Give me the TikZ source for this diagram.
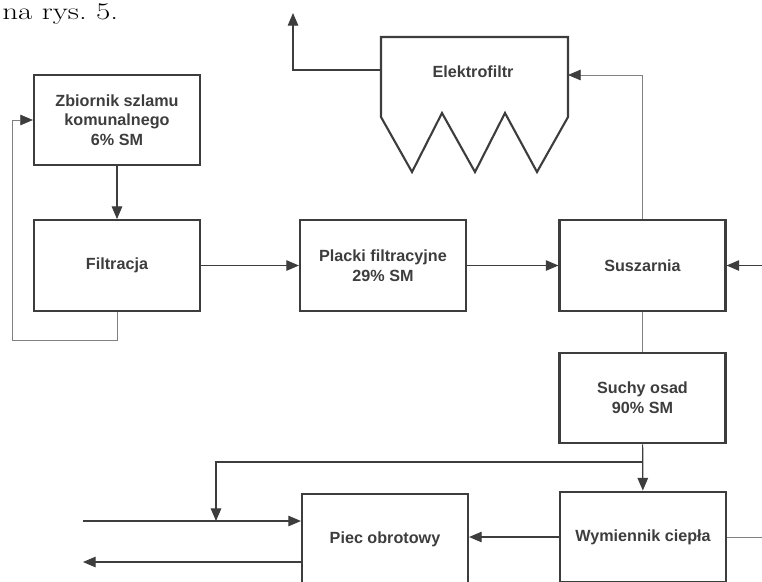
\documentclass[tikz,border=0pt]{standalone}
\usepackage{fontspec}
\usepackage{tikz}
\usetikzlibrary{arrows.meta,positioning,calc}
\newfontfamily\etyk{Liberation Sans}
\definecolor{ramka}{gray}{0.24}
\definecolor{cienka}{gray}{0.5}
\tikzset{
  blok/.style={draw=ramka, line width=1.5pt, minimum width=4.15cm, minimum height=2.27cm,
    align=center, text=ramka, font=\etyk\bfseries\fontsize{11.5}{14}\selectfont},
  strz/.style={draw=ramka, line width=0.8pt, -{Triangle[length=9pt,width=7.5pt]}},
  cienka/.style={draw=cienka, line width=0.5pt},
  cstrz/.style={cienka, -{Triangle[length=9pt,width=7.5pt,color=ramka]}},
}

\begin{document}
\begin{tikzpicture}[x=0.025cm, y=-0.025cm]
    \useasboundingbox (0,0) rectangle (762,581);
    \clip (0,0) rectangle (762,581);

    \node [anchor=base west, inner sep=0pt, font=\fontsize{17}{20}\selectfont] (rys) at (2,19) {\scalebox{1.3}[1]{na rys.~5.}};

    \node [blok] (zbior) at (117,120) {Zbiornik szlamu\\komunalnego\\6\% SM};
    \node [blok] (filtr) at (117,265.5) {Filtracja};
    \node [blok] (placki) at (383,265.5) {Placki filtracyjne\\29\% SM};
    \node [blok] (susz) at (642.5,265.5) {Suszarnia};
    \node [blok] (suchy) at (642.5,398) {Suchy osad\\90\% SM};
    \node [blok] (wym) at (643,537) {Wymiennik ciepła};
    \node [blok] (piec) at (385,539) {Piec obrotowy};

    % elektrofiltr
    \draw [ramka, line width=1.5pt, line join=miter]
        (381,117) -- (381,37) -- (568,37) -- (568,117)
        -- (537,172) -- (505,113) -- (475,172) -- (442,113) -- (412,172) -- cycle;
    \node [text=ramka, font=\etyk\bfseries\fontsize{11.5}{14}\selectfont] (elf) at (473,72) {Elektrofiltr};
    \coordinate (elfwe) at (568,75);
    \coordinate (elfwy) at (381,70);
    \coordinate (komin) at (293,13);

    \coordinate (petla) at (12,340);
    \coordinate (wlot) at (762,265.5);
    \coordinate (rozg) at (643,462);
    \coordinate (zbieg) at (216,521);
    \coordinate (wej) at (83,521);
    \coordinate (wyj) at (83,562);
    \coordinate (wymkon) at (762,537);

    \draw [strz] (zbior) -- (filtr);
    \draw [cstrz] (filtr.south) -- (filtr.south |- petla) -- (petla) |- (zbior.west);
    \draw [strz] (filtr) -- (placki);
    \draw [strz] (placki) -- (susz);
    \draw [strz] (wlot) -- (susz.east);
    \draw [cstrz] (susz.north) |- (elfwe);
    \draw [strz] (elfwy) -| (komin);
    \draw [cienka] (susz) -- (suchy);
    \draw [strz] (suchy) -- (wym);
    \draw [strz] (rozg) -| (zbieg);
    \draw [strz] (wej) -- (piec.west |- wej);
    \draw [strz] (piec.west |- wyj) -- (wyj);
    \draw [strz] (wym.west) -- (piec.east |- wym.west);
    \draw [cienka] (wym.east) -- (wymkon);
\end{tikzpicture}
\end{document}
